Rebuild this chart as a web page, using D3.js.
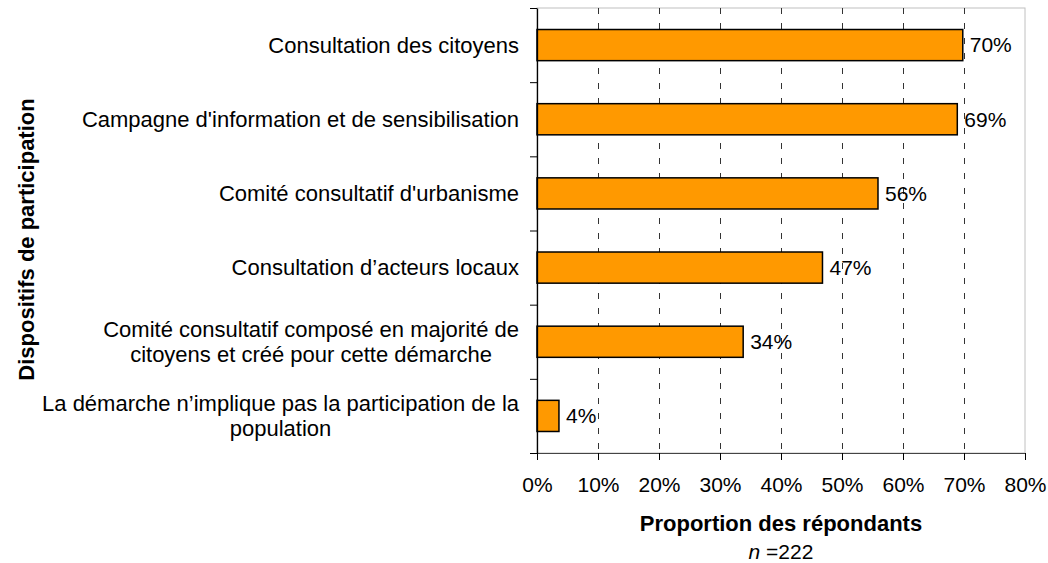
<!DOCTYPE html>
<html>
<head>
  <meta charset="utf-8">
  <title>Dispositifs de participation</title>
  <script src="https://d3js.org/d3.v7.min.js"></script>
  <style>
    body { margin: 0; background: #fff; }
    svg { display: block; font-family: "Liberation Sans", Arial, sans-serif; }
  </style>
</head>
<body>
  <svg id="chart"></svg>

  <script>
    // données
    const categories = [
      "Consultation des citoyens",
      "Campagne d'information et de sensibilisation",
      "Comité consultatif d'urbanisme",
      "Consultation d’acteurs locaux",
      "Comité consultatif composé en majorité de\ncitoyens et créé pour cette démarche",
      "La démarche n’implique pas la participation de la\npopulation"
    ];
    const values = [69.8, 68.9, 55.9, 46.8, 33.8, 3.6];
    const xTicks = [0, 10, 20, 30, 40, 50, 60, 70, 80];
    const xTitle = "Proportion des répondants";
    const yTitle = "Dispositifs de participation";

    const width = 1048;
    const height = 563;
    const plot = { left: 537, right: 1025, top: 8, bottom: 453 };

    const svg = d3.select("#chart")
      .attr("width", width)
      .attr("height", height);

    const x = d3.scaleLinear().domain([0, 80]).range([plot.left, plot.right]);
    const y = d3.scaleBand().domain(categories)
      .range([plot.top, plot.bottom])
      .paddingInner(0.58).paddingOuter(0.29);
    // bornes des catégories (pour les graduations de l'axe vertical)
    const yEdge = d3.scaleLinear().domain([0, categories.length]).range([plot.top, plot.bottom]);

    // cadre de la zone de tracé
    svg.append("rect")
      .attr("x", plot.left).attr("y", plot.top)
      .attr("width", plot.right - plot.left).attr("height", plot.bottom - plot.top)
      .attr("fill", "none").attr("stroke", "#c0c0c0");

    // quadrillage vertical en pointillés
    svg.append("g")
      .selectAll("line")
      .data(xTicks.slice(1, -1))
      .join("line")
      .attr("x1", d => Math.round(x(d)) + 0.5).attr("x2", d => Math.round(x(d)) + 0.5)
      .attr("y1", plot.top).attr("y2", plot.bottom)
      .attr("stroke", "#333")
      .attr("stroke-dasharray", "6,9");

    // barres
    svg.append("g")
      .selectAll("rect")
      .data(values)
      .join("rect")
      .attr("x", x(0))
      .attr("y", (d, i) => y(categories[i]))
      .attr("width", d => x(d) - x(0))
      .attr("height", y.bandwidth())
      .attr("fill", "#ff9900")
      .attr("stroke", "#000")
      .attr("stroke-width", 1.5);

    // étiquettes de valeurs
    svg.append("g")
      .selectAll("text")
      .data(values)
      .join("text")
      .attr("x", d => x(d) + 7)
      .attr("y", (d, i) => y(categories[i]) + y.bandwidth() / 2)
      .attr("dy", "0.35em")
      .attr("font-size", 21)
      .attr("fill", "#000")
      .text(d => Math.round(d) + "%");

    // axe horizontal
    const xAxis = svg.append("g")
      .attr("transform", `translate(0,${plot.bottom})`)
      .call(d3.axisBottom(x).tickValues(xTicks).tickFormat(d => d + "%")
        .tickSizeInner(7).tickSizeOuter(0).tickPadding(17));
    xAxis.select(".domain").attr("stroke", "#444").attr("d", `M${plot.left - 7},0.5H${plot.right}`);
    xAxis.selectAll(".tick line").attr("stroke", "#000");
    xAxis.selectAll(".tick text")
      .attr("font-family", null)
      .attr("font-size", 21)
      .attr("fill", "#000");

    // axe vertical : graduations aux limites des catégories
    const yAxis = svg.append("g")
      .attr("transform", `translate(${plot.left},0)`)
      .call(d3.axisLeft(yEdge).tickValues(d3.range(categories.length + 1))
        .tickFormat("").tickSizeInner(7).tickSizeOuter(0));
    yAxis.select(".domain").attr("stroke", "#000").attr("stroke-width", 1.3);
    yAxis.selectAll(".tick line").attr("stroke", "#000");

    // libellés des catégories (multi-lignes, centrés sur la ligne la plus longue)
    const labelRight = 519;
    const lineH = 25;
    const labels = svg.append("g")
      .selectAll("text")
      .data(categories)
      .join("text")
      .attr("font-size", 22)
      .attr("fill", "#000")
      .attr("text-anchor", "middle");

    labels.each(function(d) {
      const t = d3.select(this);
      const lines = d.split("\n");
      const cy = y(d) + y.bandwidth() / 2;
      lines.forEach((ln, k) => {
        t.append("tspan")
          .attr("y", cy + (k - (lines.length - 1) / 2) * lineH)
          .attr("dy", "0.35em")
          .text(ln);
      });
      let maxW = 0;
      t.selectAll("tspan").each(function() {
        maxW = Math.max(maxW, this.getComputedTextLength());
      });
      t.selectAll("tspan").attr("x", labelRight - maxW / 2);
    });

    // titres des axes
    const xMid = (plot.left + plot.right) / 2;
    svg.append("text")
      .attr("x", xMid)
      .attr("y", 531)
      .attr("text-anchor", "middle")
      .attr("font-size", 22)
      .attr("font-weight", "bold")
      .text(xTitle);

    const nLabel = svg.append("text")
      .attr("x", xMid)
      .attr("y", 559)
      .attr("text-anchor", "middle")
      .attr("font-size", 21);
    nLabel.append("tspan").attr("font-style", "italic").text("n");
    nLabel.append("tspan").text(" =222");

    svg.append("text")
      .attr("transform", `translate(34,${(plot.top + plot.bottom) / 2 + 9}) rotate(-90)`)
      .attr("text-anchor", "middle")
      .attr("font-size", 22)
      .attr("font-weight", "bold")
      .text(yTitle);
  </script>
</body>
</html>
